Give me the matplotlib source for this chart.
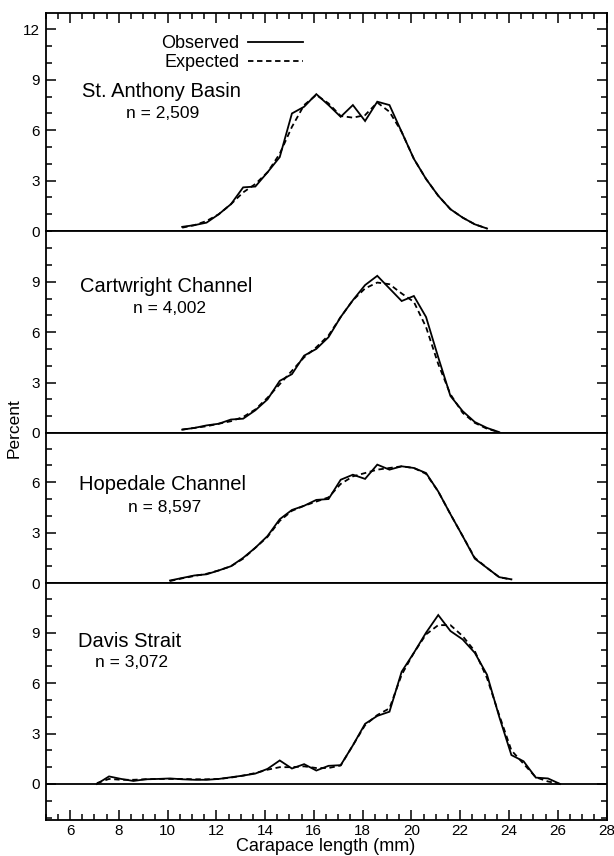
import matplotlib.pyplot as plt
from matplotlib.ticker import MultipleLocator

plt.rcParams['font.family'] = ['Liberation Sans', 'DejaVu Sans']

# carapace length classes (mm) and percent frequency
x_sab = [10.6, 11.1, 11.6, 12.1, 12.6, 13.1, 13.6, 14.1, 14.6, 15.1, 15.6, 16.1, 16.6,
         17.1, 17.6, 18.1, 18.6, 19.1, 19.6, 20.1, 20.6, 21.1, 21.6, 22.1, 22.6, 23.1]
obs_sab = [0.25, 0.35, 0.5, 1.0, 1.6, 2.6, 2.65, 3.5, 4.4, 7.0, 7.4, 8.15, 7.5,
           6.8, 7.5, 6.55, 7.7, 7.5, 5.9, 4.3, 3.1, 2.1, 1.3, 0.8, 0.4, 0.15]
exp_sab = [0.2, 0.35, 0.6, 1.0, 1.6, 2.3, 2.8, 3.5, 4.6, 6.2, 7.5, 8.1, 7.6,
           6.85, 6.75, 6.9, 7.65, 7.1, 5.9, 4.3, 3.1, 2.1, 1.3, 0.8, 0.4, 0.15]

x_cc = [10.6, 11.1, 11.6, 12.1, 12.6, 13.1, 13.6, 14.1, 14.6, 15.1, 15.6, 16.1, 16.6, 17.1,
        17.6, 18.1, 18.6, 19.1, 19.6, 20.1, 20.6, 21.1, 21.6, 22.1, 22.6, 23.1, 23.6]
obs_cc = [0.2, 0.3, 0.45, 0.55, 0.8, 0.85, 1.35, 2.0, 3.1, 3.5, 4.6, 5.0, 5.7, 6.9,
          7.9, 8.8, 9.35, 8.6, 7.85, 8.15, 6.9, 4.5, 2.2, 1.3, 0.65, 0.3, 0.05]
exp_cc = [0.2, 0.3, 0.4, 0.55, 0.7, 0.95, 1.4, 2.1, 2.9, 3.7, 4.5, 5.1, 5.8, 6.9,
          7.9, 8.6, 8.95, 8.85, 8.3, 7.8, 6.3, 4.1, 2.3, 1.2, 0.6, 0.25, 0.05]

x_hc = [10.1, 10.6, 11.1, 11.6, 12.1, 12.6, 13.1, 13.6, 14.1, 14.6, 15.1, 15.6, 16.1, 16.6, 17.1,
        17.6, 18.1, 18.6, 19.1, 19.6, 20.1, 20.6, 21.1, 21.6, 22.1, 22.6, 23.1, 23.6, 24.1]
obs_hc = [0.15, 0.3, 0.45, 0.52, 0.75, 1.0, 1.5, 2.1, 2.8, 3.8, 4.35, 4.6, 4.95, 5.0, 6.15,
          6.45, 6.2, 7.05, 6.75, 6.95, 6.85, 6.55, 5.45, 4.1, 2.8, 1.45, 0.9, 0.35, 0.22]
exp_hc = [0.12, 0.28, 0.42, 0.55, 0.75, 1.0, 1.45, 2.1, 2.75, 3.7, 4.3, 4.6, 4.85, 5.1, 5.9,
          6.35, 6.55, 6.75, 6.85, 6.95, 6.85, 6.5, 5.45, 4.1, 2.8, 1.5, 0.9, 0.35, 0.2]

x_ds = [7.1, 7.6, 8.1, 8.6, 9.1, 9.6, 10.1, 10.6, 11.1, 11.6, 12.1, 12.6, 13.1, 13.6, 14.1,
        14.6, 15.1, 15.6, 16.1, 16.6, 17.1, 17.6, 18.1, 18.6, 19.1, 19.6, 20.1, 20.6, 21.1,
        21.6, 22.1, 22.6, 23.1, 23.6, 24.1, 24.6, 25.1, 25.6, 26.1]
obs_ds = [0.0, 0.45, 0.3, 0.18, 0.28, 0.3, 0.33, 0.28, 0.25, 0.25, 0.3, 0.4, 0.5, 0.62, 0.9,
          1.4, 0.92, 1.18, 0.8, 1.08, 1.12, 2.3, 3.58, 4.05, 4.3, 6.68, 7.8, 9.0, 10.05,
          9.1, 8.6, 7.8, 6.5, 4.0, 1.72, 1.35, 0.38, 0.33, 0.0]
exp_ds = [0.05, 0.3, 0.25, 0.25, 0.28, 0.3, 0.3, 0.3, 0.28, 0.28, 0.3, 0.38, 0.5, 0.65, 0.85,
          1.0, 1.0, 1.05, 0.95, 0.95, 1.1, 2.3, 3.5, 4.1, 4.5, 6.5, 7.8, 8.9, 9.45,
          9.45, 8.8, 7.9, 6.3, 4.1, 2.0, 1.2, 0.4, 0.15, 0.0]

nombres = ['St. Anthony Basin', 'Cartwright Channel', 'Hopedale Channel', 'Davis Strait']
tamanos = ['n = 2,509', 'n = 4,002', 'n = 8,597', 'n = 3,072']
series = [(x_sab, obs_sab, exp_sab), (x_cc, obs_cc, exp_cc),
          (x_hc, obs_hc, exp_hc), (x_ds, obs_ds, exp_ds)]
marcas_y = [[0, 3, 6, 9, 12], [0, 3, 6, 9], [0, 3, 6], [0, 3, 6, 9]]

# panel layout (figure fractions) and y ranges
izq, ancho = 0.0743, 0.9135
posiciones = [(0.7301, 0.2547), (0.4942, 0.2360), (0.3189, 0.1752), (0.0421, 0.2769)]
limites_y = [(0, 12.98), (0, 12.02), (0, 8.93), (-2.14, 11.96)]
centros_titulo = [(9.75, 8.3), (9.95, 8.7), (9.78, 5.85), (8.43, 8.45)]
centros_n = [(9.79, 7.0), (10.07, 7.4), (9.86, 4.5), (8.51, 7.2)]

fig = plt.figure(figsize=(6.14, 8.56), dpi=100)
ejes = []
for i in range(4):
    ab, alto = posiciones[i]
    ax = fig.add_axes([izq, ab, ancho, alto])
    xs, obs, esp = series[i]
    ax.plot(xs, obs, color='black', lw=1.3, solid_joinstyle='miter')
    ax.plot(xs, esp, color='black', lw=1.3, linestyle=(0, (3, 2)))
    ax.set_xlim(5, 28)
    ax.set_ylim(*limites_y[i])
    ax.set_yticks(marcas_y[i])
    ax.yaxis.set_minor_locator(MultipleLocator(1))
    ax.xaxis.set_major_locator(MultipleLocator(2))
    ax.xaxis.set_minor_locator(MultipleLocator(0.5))
    ax.tick_params(axis='y', which='both', direction='in', left=True, right=True,
                   labelsize=11, pad=4, width=1.1)
    ax.tick_params(axis='y', which='major', length=7)
    ax.tick_params(axis='y', which='minor', length=4)
    ax.tick_params(axis='x', which='both', direction='in', bottom=False, top=False,
                   labelbottom=False, width=1.1)
    for s in ax.spines.values():
        s.set_linewidth(1.3)
    ax.text(*centros_titulo[i], nombres[i], ha='center', va='center', fontsize=14.5)
    ax.text(*centros_n[i], tamanos[i], ha='center', va='center', fontsize=12.5)
    ejes.append(ax)

# top panel: x ticks on top, legend
ejes[0].tick_params(axis='x', which='both', top=True)
ejes[0].tick_params(axis='x', which='major', length=7)
ejes[0].tick_params(axis='x', which='minor', length=4)
ejes[0].legend(['Observed', 'Expected'], loc='upper left', bbox_to_anchor=(0.19, 0.94),
               frameon=False, markerfirst=False, fontsize=13, handlelength=3.0,
               handletextpad=0.5, borderpad=0, labelspacing=0.1)

# bottom panel: zero line, x ticks and labels
abajo = ejes[3]
abajo.axhline(0, color='black', lw=1.3)
abajo.tick_params(axis='x', which='both', bottom=True, labelbottom=True, labelsize=11, pad=3)
abajo.tick_params(axis='x', which='major', length=7)
abajo.tick_params(axis='x', which='minor', length=4)
abajo.set_xlabel('Carapace length (mm)', fontsize=13, labelpad=0)

fig.text(14 / 614, 1 - 428 / 856, 'Percent', rotation=90, ha='center', va='center', fontsize=12.5)

plt.savefig('out.png', dpi=100)
plt.close()
